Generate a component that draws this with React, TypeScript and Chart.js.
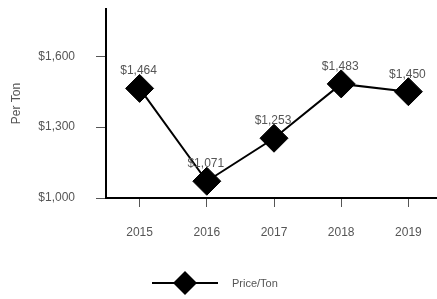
import React, { useEffect, useRef } from "react";
import { Chart, registerables } from "chart.js";

Chart.register(...registerables);

const categories = ["2015", "2016", "2017", "2018", "2019"];
const pricePerTon = [1464, 1071, 1253, 1483, 1450];
const yTickValues = [1000, 1300, 1600];
const seriesName = "Price/Ton";
const yAxisTitle = "Per Ton";

const FONT = "'Liberation Sans', Arial, Helvetica, sans-serif";
const GREY = "#555555";

const fmt = (v: number) => "$" + v.toLocaleString("en-US");

const dataLabelPlugin = {
  id: "dataLabels",
  afterDatasetsDraw(chart: any) {
    const ctx = chart.ctx;
    const meta = chart.getDatasetMeta(0);
    ctx.save();
    ctx.font = `12px ${FONT}`;
    ctx.fillStyle = GREY;
    ctx.textAlign = "center";
    ctx.textBaseline = "alphabetic";
    meta.data.forEach((pt: any, i: number) => {
      ctx.fillText(fmt(pricePerTon[i]), pt.x - 1, pt.y - 14);
    });
    ctx.restore();
  },
};

const legendPlugin = {
  id: "customLegend",
  afterDraw(chart: any) {
    const ctx = chart.ctx;
    const cy = 283;
    const x0 = 152;
    const x1 = 218;
    const cx = (x0 + x1) / 2;
    ctx.save();
    ctx.strokeStyle = "#000";
    ctx.lineWidth = 2;
    ctx.beginPath();
    ctx.moveTo(x0, cy);
    ctx.lineTo(x1, cy);
    ctx.stroke();
    const r = 12;
    ctx.fillStyle = "#000";
    ctx.beginPath();
    ctx.moveTo(cx, cy - r);
    ctx.lineTo(cx + r, cy);
    ctx.lineTo(cx, cy + r);
    ctx.lineTo(cx - r, cy);
    ctx.closePath();
    ctx.fill();
    ctx.font = `11px ${FONT}`;
    ctx.fillStyle = GREY;
    ctx.textAlign = "left";
    ctx.textBaseline = "middle";
    ctx.fillText(seriesName, 232, cy + 1);
    ctx.restore();
  },
};

export default function App() {
  const ref = useRef<HTMLCanvasElement | null>(null);

  useEffect(() => {
    if (!ref.current) return;
    const chart = new Chart(ref.current, {
      type: "line",
      data: {
        labels: categories,
        datasets: [
          {
            label: seriesName,
            data: pricePerTon,
            borderColor: "#000",
            backgroundColor: "#000",
            borderWidth: 2,
            pointStyle: "rectRot",
            pointRadius: 14,
            pointBorderWidth: 1,
            pointBackgroundColor: "#000",
            pointBorderColor: "#000",
            tension: 0,
            clip: false as any,
          },
        ],
      },
      options: {
        responsive: false,
        animation: false,
        devicePixelRatio: 1,
        layout: { autoPadding: false, padding: { top: 9, right: 0, bottom: 0, left: 0 } },
        plugins: {
          legend: { display: false },
          tooltip: { enabled: false },
        },
        scales: {
          x: {
            offset: true,
            grid: {
              offset: false,
              drawOnChartArea: false,
              drawTicks: true,
              tickLength: 9,
              color: GREY,
              lineWidth: 1,
            },
            border: { display: true, color: "#000", width: 2 },
            ticks: {
              color: GREY,
              font: { family: FONT, size: 12 },
              padding: 18,
              maxRotation: 0,
            },
            afterFit(scale: any) {
              scale.height = 101;
              scale.paddingLeft = 0;
              scale.paddingRight = 0;
            },
          },
          y: {
            min: 1000,
            max: 1800,
            afterBuildTicks(scale: any) {
              scale.ticks = yTickValues.map((v) => ({ value: v }));
            },
            grid: {
              drawOnChartArea: false,
              drawTicks: true,
              tickLength: 10,
              color: GREY,
              lineWidth: 1,
            },
            border: { display: true, color: "#000", width: 2 },
            ticks: {
              color: GREY,
              font: { family: FONT, size: 12 },
              padding: 21,
              callback: (v: any) => fmt(Number(v)),
            },
            title: {
              display: true,
              text: yAxisTitle,
              color: GREY,
              font: { family: FONT, size: 12 },
              padding: { top: 9, bottom: 0 },
            },
            afterFit(scale: any) {
              scale.width = 106;
              scale.paddingTop = 0;
              scale.paddingBottom = 0;
            },
          },
        },
      },
      plugins: [dataLabelPlugin, legendPlugin],
    });
    return () => chart.destroy();
  }, []);

  return (
    <div
      style={{
        position: "fixed",
        left: 0,
        top: 0,
        width: 437,
        height: 299,
        overflow: "hidden",
        background: "#fff",
      }}
    >
      <canvas
        ref={ref}
        width={442}
        height={299}
        style={{ display: "block", width: 442, height: 299 }}
      />
    </div>
  );
}
